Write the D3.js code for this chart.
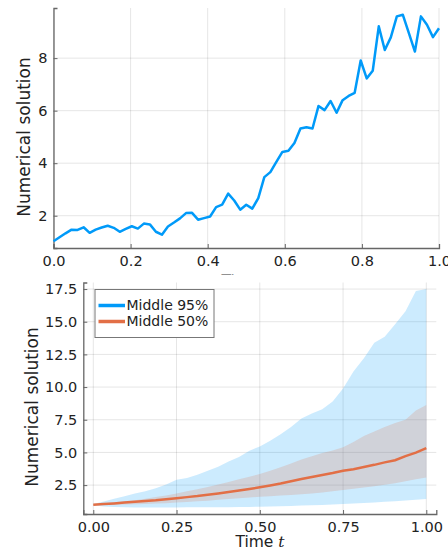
<!DOCTYPE html>
<html>
<head>
<meta charset="utf-8">
<script src="https://cdn.jsdelivr.net/npm/d3@7"></script>
<style>
  body { margin: 0; background: #fff; }
  svg text { font-family: "DejaVu Sans", sans-serif; fill: #222; }
</style>
</head>
<body>
<div id="chart"></div>
<script>
// one sample path, 65 steps of dt = 1/64
let pathTimes = d3.range(65).map(i => i / 64);
let pathValues = [1.03, 1.18, 1.33, 1.47, 1.46, 1.56, 1.35, 1.47, 1.55, 1.62,
  1.54, 1.39, 1.50, 1.60, 1.51, 1.70, 1.67, 1.39, 1.28, 1.59,
  1.74, 1.90, 2.10, 2.11, 1.85, 1.91, 1.97, 2.33, 2.42, 2.84,
  2.58, 2.23, 2.42, 2.27, 2.67, 3.47, 3.66, 4.05, 4.43, 4.47,
  4.77, 5.32, 5.37, 5.32, 6.18, 6.02, 6.37, 5.92, 6.40, 6.56,
  6.68, 7.91, 7.23, 7.52, 9.21, 8.31, 8.79, 9.59, 9.65, 8.95,
  8.25, 9.59, 9.27, 8.80, 9.14];

// ensemble quantiles, every 1/32
let bandTimes = d3.range(33).map(k => k / 32);
let upper95 = [1.05, 1.25, 1.45, 1.65, 1.85, 2.02, 2.25, 2.55, 2.90, 3.05,
  3.30, 3.60, 3.90, 4.30, 4.65, 5.13, 5.45, 5.90, 6.40, 6.95,
  7.60, 7.98, 8.30, 8.90, 9.90, 11.2, 12.2, 13.4, 13.85, 14.8,
  15.8, 17.35, 17.5];
let lower95 = [0.95, 0.86, 0.82, 0.80, 0.79, 0.79, 0.79, 0.79, 0.79, 0.80,
  0.80, 0.80, 0.81, 0.81, 0.82, 0.83, 0.84, 0.86, 0.88, 0.90,
  0.93, 0.95, 0.98, 1.01, 1.05, 1.09, 1.13, 1.17, 1.22, 1.27,
  1.32, 1.38, 1.43];
let upper50 = [1.02, 1.10, 1.18, 1.26, 1.35, 1.46, 1.58, 1.71, 1.85, 2.02,
  2.18, 2.36, 2.55, 2.74, 2.94, 3.14, 3.35, 3.60, 3.87, 4.15,
  4.45, 4.70, 4.95, 5.15, 5.40, 5.80, 6.25, 6.60, 6.95, 7.25,
  7.50, 8.20, 8.62];
let lower50 = [1.00, 0.98, 0.99, 1.01, 1.03, 1.06, 1.09, 1.12, 1.17, 1.21,
  1.26, 1.31, 1.37, 1.43, 1.49, 1.55, 1.60, 1.65, 1.70, 1.75,
  1.80, 1.85, 1.93, 2.02, 2.12, 2.22, 2.32, 2.42, 2.52, 2.65,
  2.80, 2.95, 3.08];
let median = [1.00, 1.05, 1.10, 1.16, 1.22, 1.28, 1.34, 1.42, 1.50, 1.58,
  1.66, 1.76, 1.86, 1.97, 2.08, 2.20, 2.33, 2.47, 2.62, 2.79,
  2.96, 3.12, 3.27, 3.42, 3.60, 3.72, 3.88, 4.05, 4.24, 4.40,
  4.72, 4.98, 5.33];

let topXTicks = [0, 0.2, 0.4, 0.6, 0.8, 1.0];
let topYTicks = [2, 4, 6, 8];
let botXTicks = [0, 0.25, 0.5, 0.75, 1.0];
let botYTicks = [2.5, 5, 7.5, 10, 12.5, 15, 17.5];
let legendLabels = ["Middle 95%", "Middle 50%"];

let blue = "#009af9", orange = "#e26f46";
let width = 448, height = 550;

let svg = d3.select("#chart").append("svg")
  .attr("width", width).attr("height", height);

// widen like Plots.jl does (3% each side)
let widen = ([a, b]) => { let p = (b - a) * 0.03; return [a - p, b + p]; };

let drawFrame = (g, x, y, xTicks, yTicks, xFmt, yFmt) => {
  let [x0, x1] = x.range(), [y0, y1] = y.range();
  g.append("g").selectAll("line").data(xTicks).enter().append("line")
    .attr("x1", d => x(d)).attr("x2", d => x(d))
    .attr("y1", y0).attr("y2", y1)
    .attr("stroke", "#000").attr("stroke-opacity", 0.1);
  g.append("g").selectAll("line").data(yTicks).enter().append("line")
    .attr("x1", x0).attr("x2", x1)
    .attr("y1", d => y(d)).attr("y2", d => y(d))
    .attr("stroke", "#000").attr("stroke-opacity", 0.1);

  let ax = g.append("g").attr("transform", `translate(0,${y0})`)
    .call(d3.axisBottom(x).tickValues(xTicks).tickFormat(xFmt).tickSize(-4).tickPadding(8));
  let ay = g.append("g").attr("transform", `translate(${x0},0)`)
    .call(d3.axisLeft(y).tickValues(yTicks).tickFormat(yFmt).tickSize(-4).tickPadding(6));
  [ax, ay].forEach(a => {
    a.select(".domain").attr("stroke", "#666").attr("stroke-width", 1.3);
    a.selectAll(".tick line").attr("stroke", "#666");
    a.selectAll("text").style("font-size", "14.5px").attr("fill", "#222");
  });
  ax.selectAll("text").attr("dy", "0.7em");
};

// ---- top panel ----
let topPanel = svg.append("g");
let xTop = d3.scaleLinear().domain([0, 1]).range([53.5, 439]);
let yTop = d3.scaleLinear().domain(widen(d3.extent(pathValues))).range([248, 8]);

drawFrame(topPanel, xTop, yTop, topXTicks, topYTicks, d3.format(".1f"), d3.format("d"));

topPanel.append("path")
  .datum(pathValues)
  .attr("d", d3.line().x((d, i) => xTop(pathTimes[i])).y(d => yTop(d)))
  .attr("fill", "none").attr("stroke", blue).attr("stroke-width", 2.5)
  .attr("stroke-linejoin", "round");

topPanel.append("text")
  .attr("transform", "translate(24,137) rotate(-90)")
  .attr("text-anchor", "middle").attr("dy", "0.35em")
  .style("font-size", "17px").text("Numerical solution");

let topXLabel = topPanel.append("text")
  .attr("x", 246).attr("y", 285.5).attr("text-anchor", "middle")
  .style("font-size", "15.5px");
topXLabel.append("tspan").text("Time ");
topXLabel.append("tspan").style("font-family", "'DejaVu Serif', serif")
  .style("font-style", "italic").text("t");

// ---- bottom panel (its background hides most of the top x label) ----
let botPanel = svg.append("g");
botPanel.append("rect").attr("x", 0).attr("y", 274.5).attr("width", width).attr("height", height - 274.5)
  .attr("fill", "#fff");

let xBot = d3.scaleLinear().domain(widen([0, 1])).range([83.3, 436.3]);
let allBand = upper95.concat(lower95);
let yBot = d3.scaleLinear().domain(widen(d3.extent(allBand))).range([514, 282.5]);

drawFrame(botPanel, xBot, yBot, botXTicks, botYTicks, d3.format(".2f"), d3.format(".1f"));

let area = (lo, hi) => d3.area()
  .x((d, i) => xBot(bandTimes[i]))
  .y0((d, i) => yBot(lo[i]))
  .y1((d, i) => yBot(hi[i]));

botPanel.append("path").datum(bandTimes)
  .attr("d", area(lower95, upper95))
  .attr("fill", blue).attr("fill-opacity", 0.2);
botPanel.append("path").datum(bandTimes)
  .attr("d", area(lower50, upper50))
  .attr("fill", orange).attr("fill-opacity", 0.2);
botPanel.append("path").datum(median)
  .attr("d", d3.line().x((d, i) => xBot(bandTimes[i])).y(d => yBot(d)))
  .attr("fill", "none").attr("stroke", orange).attr("stroke-width", 2.5);

botPanel.append("text")
  .attr("transform", "translate(32,407) rotate(-90)")
  .attr("text-anchor", "middle").attr("dy", "0.35em")
  .style("font-size", "17px").text("Numerical solution");

let botXLabel = botPanel.append("text")
  .attr("x", 260).attr("y", 546.5).attr("text-anchor", "middle")
  .style("font-size", "15.5px");
botXLabel.append("tspan").text("Time ");
botXLabel.append("tspan").style("font-family", "'DejaVu Serif', serif")
  .style("font-style", "italic").text("t");

// legend
let legend = botPanel.append("g").attr("transform", "translate(95,289.5)");
legend.append("rect").attr("width", 119).attr("height", 48)
  .attr("fill", "#fff").attr("stroke", "#777").attr("stroke-width", 1);
let items = legend.selectAll("g.item").data(legendLabels).enter().append("g")
  .attr("class", "item")
  .attr("transform", (d, i) => `translate(0,${16 + i * 16})`);
items.append("line").attr("x1", 3.5).attr("x2", 30)
  .attr("stroke", (d, i) => [blue, orange][i]).attr("stroke-width", 3.5);
items.append("text").attr("x", 31.5).attr("dy", "0.35em")
  .style("font-size", "14px").text(d => d);
</script>
</body>
</html>
